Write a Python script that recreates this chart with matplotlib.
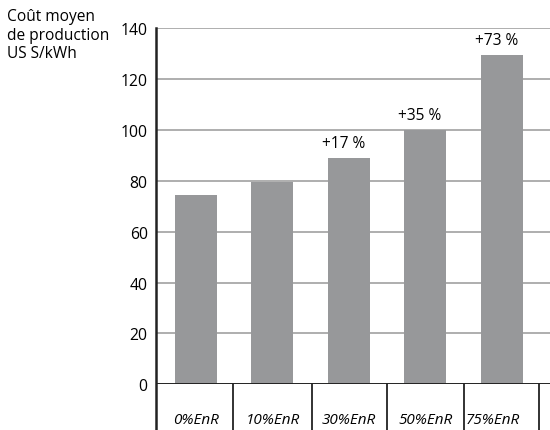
import matplotlib.pyplot as plt

categories = ["0%EnR", "10%EnR", "30%EnR", "50%EnR", "75%EnR"]
costs = [74.5, 79.5, 89, 100, 129.5]
increases = ["", "", "+17 %", "+35 %", "+73 %"]
yticks = [0, 20, 40, 60, 80, 100, 120, 140]

plt.rcParams["font.family"] = ["Open Sans", "DejaVu Sans"]

fig = plt.figure(figsize=(5.5, 4.31), dpi=100)
ax = fig.add_axes([0.2836, 0.106, 0.7164, 0.8267])

x = list(range(len(categories)))
bars = ax.bar(x, costs, width=0.55, color="#97989a", zorder=3)

ax.set_xlim(-0.523, 4.63)
ax.set_ylim(0, 140)
ax.set_yticks(yticks)
ax.set_yticklabels([str(t) for t in yticks], fontsize=11.3)
ax.tick_params(axis="y", length=0, pad=6)
ax.set_xticks([])

# horizontal guides
for t in yticks[1:]:
    ax.axhline(t, color="#a8a8a8", lw=1.3, zorder=1)
ax.axhline(0, color="#222222", lw=1.4, zorder=4)

for s in ax.spines.values():
    s.set_visible(False)

# left axis and category separators run below the plot
ax.plot([-0.523, -0.523], [-18, 140], color="#222222", lw=1.8,
        clip_on=False, zorder=5)
for sep in [0.484, 1.516, 2.497, 3.503, 4.484]:
    ax.plot([sep, sep], [-18, 0], color="#222222", lw=1.3, clip_on=False)

for i, name in enumerate(categories):
    if i == len(categories) - 1:
        ax.annotate(name, (4.484, -14), xytext=(-53, 0),
                    textcoords="offset points", ha="left", va="center",
                    fontsize=11, style="italic", annotation_clip=False)
    else:
        ax.text(i, -14, name, ha="center", va="center", fontsize=11,
                style="italic", clip_on=False)

for b, lab in zip(bars, increases):
    if lab:
        ax.annotate(lab, (b.get_x() + b.get_width() / 2, b.get_height()),
                    xytext=(-4, 5), textcoords="offset points",
                    ha="center", va="bottom", fontsize=11.2)

fig.text(0.013, 0.978, "Coût moyen\nde production\nUS S/kWh", ha="left",
         va="top", fontsize=11.2, linespacing=1.2)

fig.savefig("out.png", dpi=100)
